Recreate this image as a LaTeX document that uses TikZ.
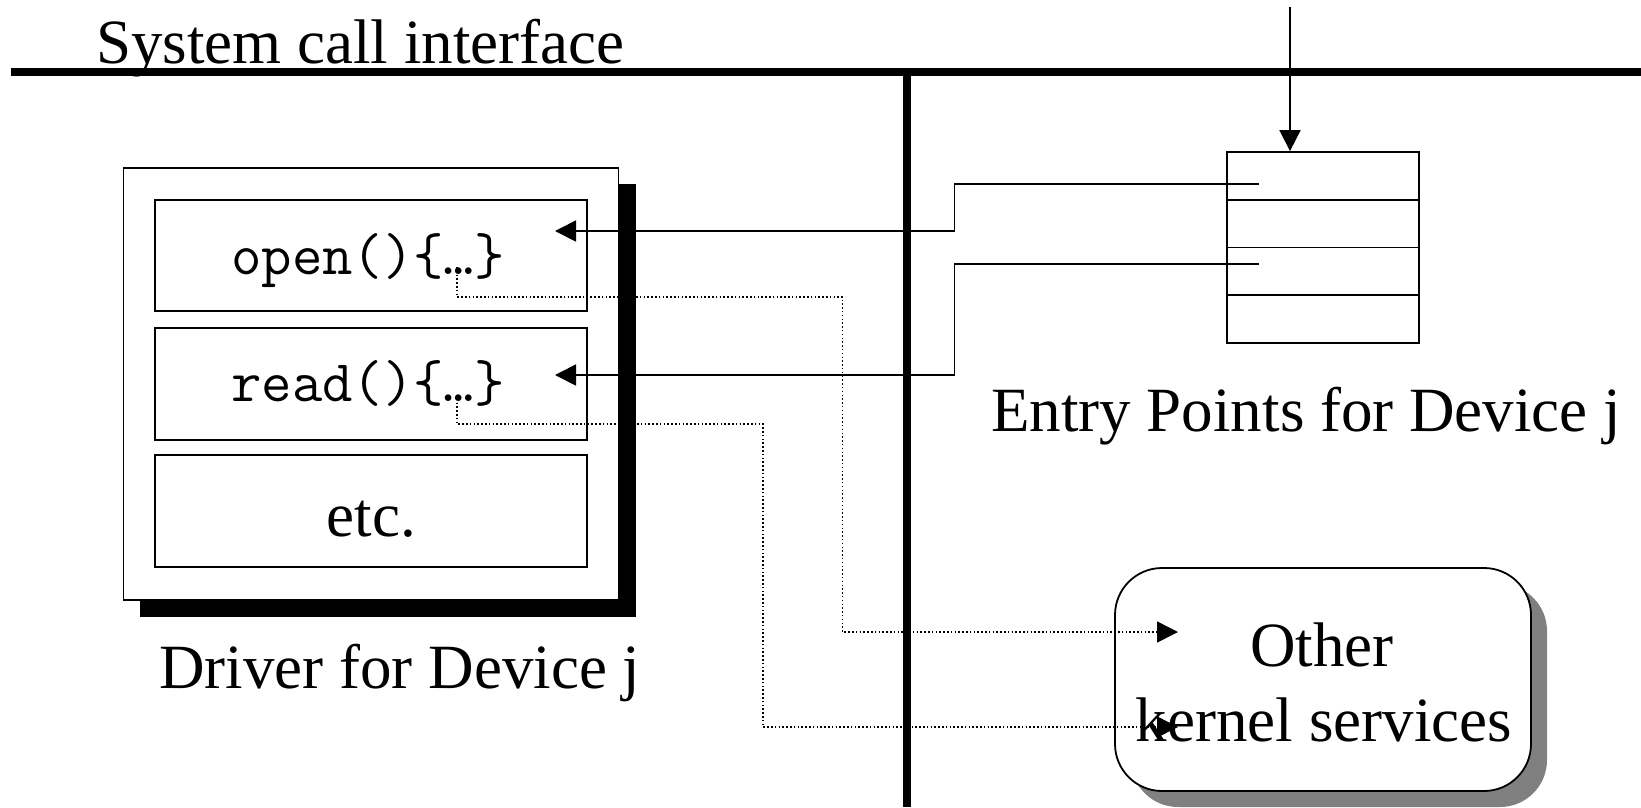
\documentclass[tikz,border=0pt]{standalone}
\usepackage{fontspec}
\setmainfont{Liberation Serif}
\usetikzlibrary{arrows.meta,shadows}
\begin{document}
\begin{tikzpicture}[x=1pt,y=-1pt,
  thinline/.style={line width=1.8pt},
  bar/.style={line width=8.5pt},
  tipped/.style={-{Triangle[length=21pt,width=21pt]}},
  dotline/.style={line width=1.5pt, dash pattern=on 1.5pt off 2.3pt},
  lbl/.style={font=\fontsize{63}{70}\selectfont, inner sep=0pt},
  code/.style={font=\ttfamily\fontsize{59}{66}\selectfont, inner sep=0pt, anchor=base},
  box/.style={draw, thinline, fill=white, inner sep=0pt}]
\useasboundingbox (0,0) rectangle (1641,807);

% system call interface bars
\draw[bar] (11,72) -- (1641,72);
\draw[bar] (907,72) -- (907,807);
\node[lbl, anchor=base west] (sci) at (96,63) {System call interface};

% driver box with black shadow
\fill (140,184) rectangle (635.5,616.5);
\node[box, minimum width=495pt, minimum height=432pt] (drv) at (371,384) {};
\node[box, minimum width=432pt, minimum height=111pt] (open) at (371,255.5) {};
\node[box, minimum width=432pt, minimum height=112pt] (read) at (371,384) {};
\node[box, minimum width=432pt, minimum height=112pt] (etc) at (371,511) {};
\node[code] (opentxt) at (368,274) {open()\{…\}};
\node[code] (readtxt) at (368,401) {read()\{…\}};
\node[lbl, anchor=base] (etctxt) at (371.5,536) {etc.};
\node[lbl, anchor=base west] (drvlbl) at (159,688) {Driver for Device j};

% entry point table
\node[box, minimum width=192pt, minimum height=191pt] (tab) at (1323,247.5) {};
\draw[thinline] (1227,199.75) -- (1419,199.75);
\draw[thinline] (1227,247.5) -- (1419,247.5);
\draw[thinline] (1227,295.25) -- (1419,295.25);
\node[lbl, anchor=base west] (tablbl) at (991,431) {Entry Points for Device j};
\coordinate (callin) at (1290,7);
\draw[thinline, tipped] (callin) -- (callin |- tab.north);

% other kernel services
\node[draw, thinline, fill=white, rounded corners=47pt, minimum width=416pt, minimum height=223pt,
  drop shadow={shadow xshift=16pt, shadow yshift=-16pt, fill=black!50, opacity=1}] (oks) at (1323,679.5) {};
\node[lbl, anchor=base] (oks1) at (1322,666) {Other};
\node[lbl, anchor=base] (oks2) at (1324,741) {kernel services};

% entry point connectors
\coordinate (e1) at (1259,184);
\coordinate (e2) at (1259,264);
\coordinate (opentip) at (555,231);
\coordinate (readtip) at (555,375);
\draw[thinline, tipped] (e1) -- (954.5,184) |- (opentip);
\draw[thinline, tipped] (e2) -- (954.5,264) |- (readtip);

% dotted calls to kernel services
\coordinate (od) at (457,267);
\coordinate (rd) at (457,395);
\coordinate (ok1) at (1178,632);
\coordinate (ok2) at (1178,727);
\draw[dotline, tipped] (od) -- (457,297) -| (842.5,632) -- (ok1);
\draw[dotline, tipped] (rd) -- (457,424) -| (763,727) -- (ok2);
\end{tikzpicture}
\end{document}
